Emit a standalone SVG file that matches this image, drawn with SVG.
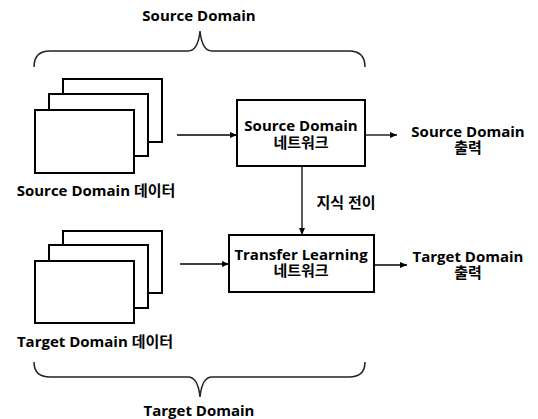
<svg xmlns="http://www.w3.org/2000/svg" width="538" height="419" viewBox="0 0 538 419">
<defs>
<marker id="ah" markerWidth="8" markerHeight="8" refX="7" refY="4" orient="auto" markerUnits="userSpaceOnUse">
<path d="M0,1 L7,4 L0,7 Z" fill="#000"/>
</marker>
<style>
text{font-family:"Open Sans","Noto Sans CJK KR",sans-serif;font-weight:bold;font-size:15px;fill:#000;text-anchor:middle}
.box{fill:#fff;stroke:#000;stroke-width:2}
.brace{fill:none;stroke:#222;stroke-width:1.5}
.conn{stroke:#000;stroke-width:1.3;fill:none;marker-end:url(#ah)}
</style>
</defs>
<rect width="538" height="419" fill="#fff"/>
<g id="source-brace">
<path class="brace" d="M34,67 Q34,51 50,51 L188,51 Q198,51 200,31 Q202,51 212,51 L349,51 Q365,51 365,67"/>
<text x="199" y="21">Source Domain</text>
</g>
<g id="source-data">
<rect class="box" x="63" y="79" width="99" height="63"/>
<rect class="box" x="49" y="94" width="99" height="62"/>
<rect class="box" x="35" y="110" width="99" height="63"/>
<text x="96" y="196">Source Domain 데이터</text>
</g>
<g id="source-net">
<rect class="box" x="237" y="100" width="128" height="66"/>
<text x="301" y="131">Source Domain</text>
<text x="301" y="148">네트워크</text>
</g>
<g id="source-out">
<text x="468" y="137">Source Domain</text>
<text x="468" y="153">출력</text>
</g>
<g id="target-data">
<rect class="box" x="63" y="231" width="99" height="62"/>
<rect class="box" x="49" y="245" width="99" height="63"/>
<rect class="box" x="35" y="261" width="99" height="62"/>
<text x="95" y="347">Target Domain 데이터</text>
</g>
<g id="transfer-net">
<rect class="box" x="229" y="235" width="145" height="57"/>
<text x="301" y="260">Transfer Learning</text>
<text x="301" y="276">네트워크</text>
</g>
<g id="target-out">
<text x="468" y="262">Target Domain</text>
<text x="468" y="278">출력</text>
</g>
<g id="target-brace">
<path class="brace" d="M34,362 Q34,377 50,377 L188,377 Q198,377 200,397 Q202,377 212,377 L349,377 Q365,377 365,362"/>
<text x="199" y="416">Target Domain</text>
</g>
<g id="connectors">
<line class="conn" x1="177" y1="135" x2="237" y2="135"/>
<line class="conn" x1="365" y1="135" x2="397" y2="135"/>
<line class="conn" x1="302" y1="166" x2="302" y2="235"/>
<line class="conn" x1="180" y1="264" x2="229" y2="264"/>
<line class="conn" x1="374" y1="265" x2="407" y2="265"/>
<text x="346" y="208">지식 전이</text>
</g>
</svg>
